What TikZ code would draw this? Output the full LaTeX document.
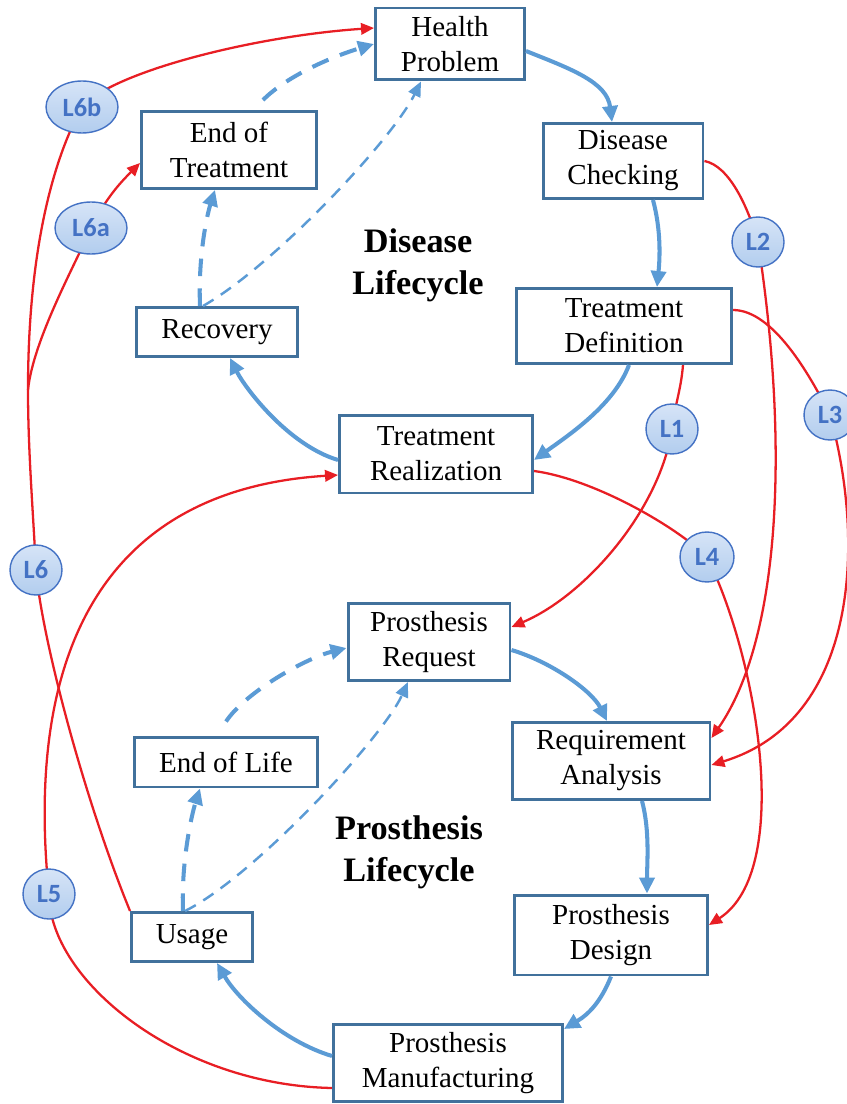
\documentclass[tikz,border=0pt]{standalone}
\usepackage{fontspec}
\setmainfont{Liberation Serif}
\newfontfamily\tagfont{Carlito}
\usetikzlibrary{arrows.meta, shapes.geometric, backgrounds}

\definecolor{boxblue}{RGB}{65,113,156}
\definecolor{flowblue}{RGB}{91,155,213}
\definecolor{linkred}{RGB}{232,30,36}
\definecolor{tagblue}{RGB}{68,114,196}
\definecolor{tagtop}{RGB}{214,228,247}
\definecolor{tagbottom}{RGB}{178,205,238}

\begin{document}
\begin{tikzpicture}[
    x=0.02cm, y=-0.02cm,
    box/.style={rectangle, draw=boxblue, line width=1.7pt, fill=white, align=center, inner sep=0pt, font=\fontsize{16.5}{19.9}\selectfont},
    tag/.style={ellipse, draw=tagblue, line width=0.8pt, top color=tagtop, bottom color=tagbottom, text=tagblue, inner sep=0pt, minimum width=1.04cm, minimum height=1cm, font=\tagfont\bfseries\fontsize{15}{18}\selectfont},
    title/.style={align=center, font=\bfseries\fontsize{19.5}{24}\selectfont},
    flow/.style={-{Triangle[length=3.2mm, width=3mm]}, flowblue, line width=2.3pt},
    back/.style={flow, dash pattern=on 10pt off 7pt},
    backthin/.style={-{Triangle[length=3mm, width=2.6mm]}, flowblue, line width=1.4pt, dash pattern=on 7pt off 5pt},
    link/.style={-{Triangle[length=2.6mm, width=2.3mm]}, linkred, line width=1.3pt}
]
\useasboundingbox (0,0) rectangle (847,1104);

% Disease lifecycle
\node[box, minimum width=2.98cm, minimum height=1.44cm] (hp) at (450,44) {Health\\Problem};
\node[box, minimum width=3.2cm, minimum height=1.5cm] (dc) at (623,161) {Disease\\Checking};
\node[box, minimum width=4.3cm, minimum height=1.5cm] (td) at (624,326) {Treatment\\Definition};
\node[box, minimum width=3.86cm, minimum height=1.56cm] (tr) at (436,454) {Treatment\\Realization};
\node[box, minimum width=3.22cm, minimum height=0.98cm] (rc) at (217,332) {Recovery};
\node[box, minimum width=3.5cm, minimum height=1.54cm] (et) at (229,150) {End of\\Treatment};
\node[title] (dl) at (418,265) {Disease\\Lifecycle};

% Prosthesis lifecycle
\node[box, minimum width=3.24cm, minimum height=1.54cm] (pr) at (429,642) {Prosthesis\\Request};
\node[box, minimum width=3.96cm, minimum height=1.54cm] (ra) at (611,761) {Requirement\\Analysis};
\node[box, minimum width=3.86cm, minimum height=1.6cm] (pd) at (611,935) {Prosthesis\\Design};
\node[box, minimum width=4.58cm, minimum height=1.54cm] (pm) at (448,1063) {Prosthesis\\Manufacturing};
\node[box, minimum width=2.42cm, minimum height=0.98cm] (us) at (192,937) {Usage};
\node[box, minimum width=3.66cm, minimum height=1cm] (el) at (226,762) {End of Life};
\node[title] (pl) at (409,852) {Prosthesis\\Lifecycle};

% Link tags
\node[tag, minimum width=1.44cm, minimum height=1.04cm] (l6b) at (82,107) {L6b};
\node[tag, minimum width=1.44cm, minimum height=1.04cm] (l6a) at (91,228) {L6a};
\node[tag] (l2) at (758,242) {L2};
\node[tag] (l3) at (830,415) {L3};
\node[tag] (l1) at (672,429) {L1};
\node[tag, minimum width=1.08cm] (l4) at (707,557) {L4};
\node[tag] (l6) at (36,570) {L6};
\node[tag] (l5) at (49,894) {L5};
\coordinate (fork) at (28,390);

% Disease flow
\draw[flow] ([yshift=-0.14cm]hp.east) .. controls +(45,18) and +(-5,-40) .. ([xshift=-0.22cm]dc.north);
\draw[flow] ([xshift=0.6cm]dc.south) .. controls +(8,30) and +(3,-30) .. ([xshift=0.66cm]td.north);
\draw[flow] ([xshift=0.1cm]td.south) .. controls +(-15,40) and +(35,-25) .. ([yshift=-0.12cm]tr.east);
\draw[flow] ([yshift=-0.12cm]tr.west) .. controls +(-50,-15) and +(15,30) .. ([xshift=0.26cm]rc.south);
\draw[back] ([xshift=-0.34cm]rc.north) .. controls +(-2,-50) and +(-8,25) .. ([xshift=-0.28cm]et.south);
\draw[backthin] ([xshift=-0.28cm]rc.north) .. controls +(70,-40) and +(-30,60) .. ([xshift=-0.58cm]hp.south);
\draw[back] ([xshift=0.68cm, yshift=0.2cm]et.north) .. controls +(25,-25) and +(-40,12) .. (hp.west);

% Prosthesis flow
\draw[flow] ([yshift=-0.16cm]pr.east) .. controls +(40,12) and +(-15,-30) .. ([xshift=-0.08cm]ra.north);
\draw[flow] ([xshift=0.62cm]ra.south) .. controls +(8,30) and +(0,-30) .. ([xshift=0.72cm]pd.north);
\draw[flow] (pd.south) .. controls +(-10,25) and +(25,-15) .. ([yshift=-0.12cm]pm.north east);
\draw[flow] ([yshift=0.14cm]pm.west) .. controls +(-50,-15) and +(20,35) .. ([xshift=0.5cm]us.south);
\draw[back] ([xshift=-0.18cm]us.north) .. controls +(-2,-50) and +(-8,25) .. ([xshift=-0.52cm]el.south);
\draw[backthin] ([xshift=-0.14cm]us.north) .. controls +(70,-35) and +(-25,55) .. ([xshift=-0.42cm]pr.south);
\draw[back] ([yshift=0.28cm]el.north) .. controls +(20,-30) and +(-40,10) .. ([yshift=-0.12cm]pr.west);

% Links between the lifecycles
\begin{scope}[on background layer]
\draw[link] (dc.east) .. controls +(25,5) and +(-10,-35) .. (l2.center) .. controls +(32,208) and +(68,-98) .. ([yshift=0.46cm]ra.east);
\draw[link] ([yshift=0.32cm]td.east) .. controls +(40,0) and +(-20,-40) .. (l3.center) .. controls +(35,125) and +(148,-45) .. ([yshift=-0.08cm]ra.east);
\draw[link] ([xshift=1.18cm]td.south) .. controls +(-2,25) and +(3,-25) .. (l1.center) .. controls +(-12,80) and +(75,-32) .. ([yshift=0.3cm]pr.east);
\draw[link] ([yshift=-0.34cm]tr.east) .. controls +(60,8) and +(-30,-30) .. (l4.center) .. controls +(50,100) and +(85,-55) .. ([yshift=0.2cm]pd.east);
\draw[link] ([yshift=-0.5cm]pm.west) .. controls +(-154,-3) and +(0,86) .. (l5.center) .. controls +(-24,-234) and +(-240,15) .. ([yshift=-0.42cm]tr.west);
\draw[linkred, line width=1.3pt] (us.north west) .. controls +(-45,-110) and +(6,70) .. (l6.center) .. controls +(-3,-60) and +(0,60) .. (fork);
\draw[link] (fork) .. controls +(5,-50) and +(-15,35) .. (l6a.center) .. controls +(15,-30) and +(-20,20) .. ([yshift=-0.26cm]et.west);
\draw[link] (fork) .. controls +(0,-150) and +(-25,45) .. (l6b.center) .. controls +(30,-35) and +(-120,8) .. ([yshift=0.32cm]hp.west);
\end{scope}

\end{tikzpicture}
\end{document}
